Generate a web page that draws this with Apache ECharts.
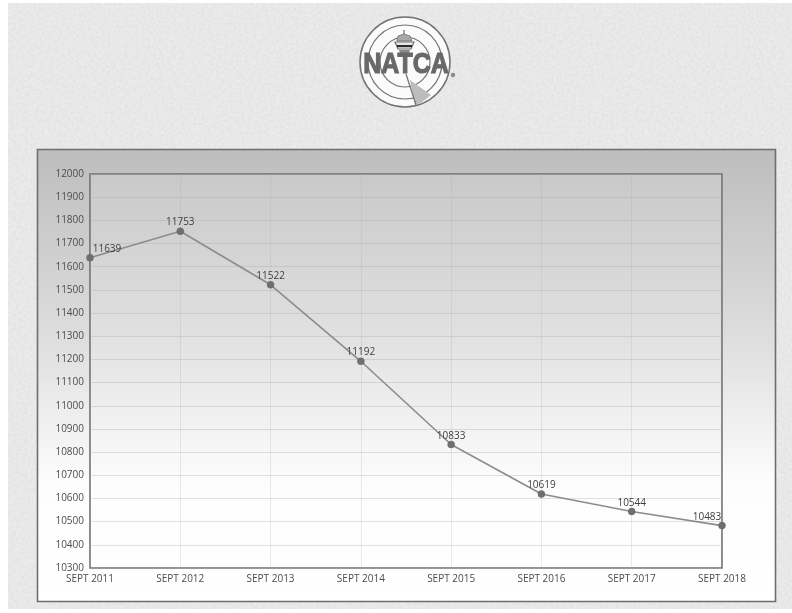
<!DOCTYPE html>
<html>
<head>
<meta charset="utf-8">
<script src="https://cdn.jsdelivr.net/npm/echarts@6/dist/echarts.min.js"></script>
<style>
  html, body { margin: 0; padding: 0; background: #fff; }
  #paper {
    position: absolute; left: 8px; top: 3px; width: 784px; height: 606px;
    background-color: #ebebeb;
    background-image: url("data:image/svg+xml;utf8,<svg xmlns='http://www.w3.org/2000/svg' width='300' height='300'><filter id='n'><feTurbulence type='fractalNoise' baseFrequency='0.35' numOctaves='2' seed='4'/><feColorMatrix values='0 0 0 0 0.6 0 0 0 0 0.6 0 0 0 0 0.6 0.55 0 0 0 -0.18'/></filter><rect width='300' height='300' filter='url(%23n)'/></svg>");
  }
  #chart { position: absolute; left: 0; top: 0; width: 792px; height: 613px; }
</style>
</head>
<body>
<div id="paper"></div>
<div id="chart"></div>
<script>
const months = ['SEPT 2011', 'SEPT 2012', 'SEPT 2013', 'SEPT 2014', 'SEPT 2015', 'SEPT 2016', 'SEPT 2017', 'SEPT 2018'];
const controllers = [11639, 11753, 11522, 11192, 10833, 10619, 10544, 10483];
const axisMin = 10300;
const axisMax = 12000;
const axisStep = 100;

const ink = '#4c4c4c';
const labelFont = '"Open Sans", "Noto Sans", sans-serif';

// End points carry their labels beside the marker so they stay inside the frame.
function labelFor(i) {
  if (i === 0) return { offset: [17, 0] };
  if (i === months.length - 1) return { offset: [-15, 0] };
  return {};
}

// Union emblem: radar rings, tower and wordmark.
const cx = 405, cy = 62;
const ring = (r, w) => ({
  type: 'circle',
  shape: { cx, cy, r },
  style: { fill: '#fbfbfb', stroke: '#727272', lineWidth: w }
});
const emblem = {
  type: 'group',
  silent: true,
  children: [
    ring(45, 1.5), ring(37, 1.2), ring(25, 1.2),
    { type: 'polygon', shape: { points: [[cx + 5, cy + 18], [cx + 26, cy + 33], [cx + 16, cy + 41], [cx + 10, cy + 43]] },
      style: { fill: '#bcbcbc' } },
    { type: 'line', shape: { x1: cx + 1, y1: cy + 12, x2: cx + 11, y2: cy + 43 }, style: { stroke: '#777', lineWidth: 1.3 } },
    // tower cab and crown
    { type: 'polygon', shape: { points: [[cx - 10, cy - 20], [cx + 9, cy - 20], [cx + 6, cy - 13], [cx - 7, cy - 13]] },
      style: { fill: '#e8e8e8', stroke: '#707070', lineWidth: 1.2 } },
    { type: 'rect', shape: { x: cx - 8, y: cy - 17, width: 15, height: 2.2 }, style: { fill: '#2a2a2a' } },
    { type: 'polygon', shape: { points: [[cx - 6, cy - 12], [cx + 5, cy - 12], [cx + 3, cy - 5], [cx - 4, cy - 5]] },
      style: { fill: '#8a8a8a' } },
    { type: 'polygon', shape: { points: [[cx - 8, cy - 21], [cx - 7, cy - 26], [cx - 1, cy - 28], [cx + 5, cy - 26], [cx + 7, cy - 21]] },
      style: { fill: '#a8a8a8', stroke: '#707070', lineWidth: 0.8 } },
    { type: 'line', shape: { x1: cx - 1, y1: cy - 28, x2: cx - 1, y2: cy - 32 }, style: { stroke: '#707070', lineWidth: 1.2 } },
    { type: 'text', x: cx + 1, y: cy + 3, scaleY: 1.15,
      style: { text: 'NATCA', fill: '#686868', stroke: '#686868', lineWidth: 1,
        font: 'bold 25px "Liberation Sans", sans-serif', align: 'center', verticalAlign: 'middle' } },
    { type: 'circle', shape: { cx: 453, cy: 75, r: 2.2 }, style: { fill: '#8a8a8a' } }
  ]
};

// Chart card behind the plot area, fading from grey to white.
const card = {
  type: 'rect',
  silent: true,
  z: -1,
  shape: { x: 37.5, y: 149.5, width: 738, height: 452 },
  style: {
    stroke: '#6e6e6e',
    lineWidth: 1.6,
    fill: {
      type: 'linear', x: 0, y: 0, x2: 0, y2: 1,
      colorStops: [
        { offset: 0, color: '#bdbdbd' },
        { offset: 0.4, color: '#dcdcdc' },
        { offset: 0.74, color: '#fdfdfd' },
        { offset: 1, color: '#ffffff' }
      ]
    }
  }
};

const chart = echarts.init(document.getElementById('chart'), null, { renderer: 'canvas' });
chart.setOption({
  animation: false,
  backgroundColor: 'transparent',
  graphic: [card, emblem],
  grid: {
    left: 90, right: 70, top: 174, bottom: 45,
    show: true,
    borderColor: '#6e6e6e',
    borderWidth: 1.6,
    backgroundColor: 'rgba(255,255,255,0.12)'
  },
  xAxis: {
    type: 'category',
    data: months,
    boundaryGap: false,
    axisLine: { show: false },
    axisTick: { show: false },
    axisLabel: { color: ink, fontSize: 10, fontFamily: labelFont, margin: 6, interval: 0, hideOverlap: false },
    splitLine: { show: true, lineStyle: { color: 'rgba(170,170,170,0.25)', width: 1 } }
  },
  yAxis: {
    type: 'value',
    min: axisMin,
    max: axisMax,
    interval: axisStep,
    axisLine: { show: false },
    axisTick: { show: false },
    axisLabel: { color: ink, fontSize: 10, fontFamily: labelFont, margin: 6, formatter: v => String(v) },
    splitLine: { show: true, lineStyle: { color: 'rgba(170,170,170,0.35)', width: 1 } }
  },
  series: [{
    type: 'line',
    data: controllers.map((value, i) => ({ value, label: labelFor(i) })),
    clip: false,
    symbol: 'circle',
    symbolSize: 7,
    showAllSymbols: true,
    itemStyle: { color: '#6f6f6f', borderColor: '#666', borderWidth: 0.5 },
    lineStyle: { color: '#8c8c8c', width: 1.6 },
    label: {
      show: true,
      position: 'top',
      distance: 0,
      color: '#3e3e3e',
      fontSize: 10,
      fontFamily: labelFont
    }
  }]
});
</script>
</body>
</html>
